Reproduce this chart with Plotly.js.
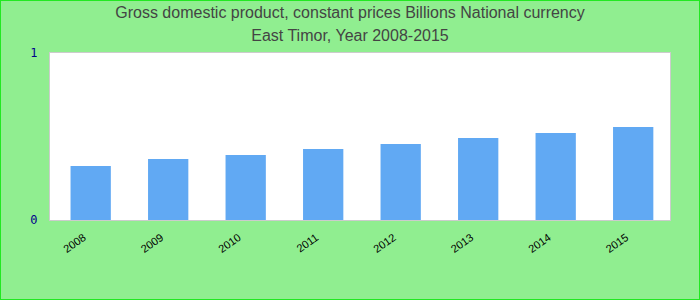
<!DOCTYPE html>
<html>
<head>
<meta charset="utf-8">
<script src="https://cdn.plot.ly/plotly-3.0.1.min.js"></script>
<style>
html,body{margin:0;padding:0;background:#90EE90;}
#wrap{position:relative;width:700px;height:300px;}
#chart{width:700px;height:300px;}
#frame{position:absolute;left:0;top:0;width:700px;height:300px;box-sizing:border-box;border:1px solid #22e822;pointer-events:none;}
</style>
</head>
<body>
<div id="wrap"><div id="chart"></div><div id="frame"></div></div>
<script>
const years = ['2008','2009','2010','2011','2012','2013','2014','2015'];
const gdp = [0.323, 0.365, 0.389, 0.425, 0.455, 0.491, 0.521, 0.557];
const titleLines = ['Gross domestic product, constant prices Billions National currency', 'East Timor, Year 2008-2015'];
const yTicks = [0, 1];

Plotly.newPlot('chart', [{
  type: 'bar',
  x: years,
  y: gdp,
  marker: {color: '#61a9f3'},
  hoverinfo: 'x+y'
}], {
  width: 700, height: 300,
  paper_bgcolor: '#90EE90',
  plot_bgcolor: '#ffffff',
  margin: {l: 50, r: 30, t: 53, b: 80},
  bargap: 0.48,
  showlegend: false,
  title: {
    text: titleLines.map(function (s) { return '<span style="font-size:16px">' + s + '</span>'; }).join('<br>'),
    font: {family: 'Liberation Sans, Arial, sans-serif', size: 18, color: '#444444'},
    x: 0.5, xanchor: 'center', xref: 'container',
    yref: 'container', y: 0.94, yanchor: 'top'
  },
  xaxis: {
    type: 'category',
    range: [-0.525, 7.475],
    tickangle: -35,
    ticklabelshift: -7,
    tickfont: {family: 'Liberation Sans, Arial, sans-serif', size: 11, color: '#000000'},
    showline: true, linecolor: '#cccccc', linewidth: 1, mirror: true,
    ticks: 'outside', ticklen: 6, tickcolor: 'rgba(0,0,0,0)', showgrid: false
  },
  yaxis: {
    range: [0, 1],
    tickvals: yTicks,
    ticktext: yTicks.map(String),
    tickfont: {family: 'DejaVu Sans Mono, monospace', size: 12, color: '#00008b'},
    showline: true, linecolor: '#cccccc', linewidth: 1, mirror: true,
    showgrid: false, zeroline: false,
    ticks: 'outside', ticklen: 9, tickcolor: 'rgba(0,0,0,0)'
  }
}, {displayModeBar: false, staticPlot: true});
</script>
</body>
</html>
